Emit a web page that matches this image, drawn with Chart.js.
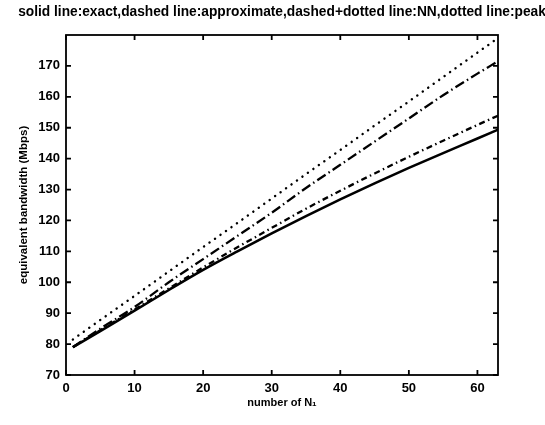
<!DOCTYPE html>
<html>
<head>
<meta charset="utf-8">
<script src="https://cdn.jsdelivr.net/npm/chart.js@4"></script>
<style>
  html, body { margin: 0; padding: 0; background: #fff; }
  #wrap { width: 545px; height: 425px; }
</style>
</head>
<body>
<div id="wrap"><canvas id="bwChart" width="545" height="425"></canvas></div>
<script>
const titleText = "solid line:exact,dashed line:approximate,dashed+dotted line:NN,dotted line:peak";

// number of N1 sources
const nValues = [1, 5, 10, 15, 20, 25, 30, 35, 40, 45, 50, 55, 60, 63];

// equivalent bandwidth (Mbps) per method
const exactBw  = [79, 84.2, 90.8, 97.5, 104, 110, 115.8, 121.4, 126.8, 132, 137, 141.8, 146.5, 149.4];
const approxBw = [79, 84.5, 91.2, 98, 104.8, 111.3, 117.6, 123.8, 129.6, 135.2, 140.6, 145.8, 150.9, 153.9];
const nnBw     = [79, 85, 92, 100, 107.5, 115, 122.5, 130.5, 138, 145.5, 153, 160.5, 167.5, 171.5];
const peakBw   = [81.5, 87.8, 95.6, 103.5, 111.4, 119.2, 127.1, 135, 142.8, 150.7, 158.5, 166.4, 174.3, 179];

const xTickValues = [0, 10, 20, 30, 40, 50, 60];
const yTickValues = [70, 80, 90, 100, 110, 120, 130, 140, 150, 160, 170];

const FONT = "'Liberation Sans', Arial, sans-serif";

function pts(ys) {
    return nValues.map((n, i) => ({ x: n, y: ys[i] }));
}

// box frame, inward ticks on all four sides, and the heading
const frameTicks = {
    id: "frameTicks",
    afterDraw(chart) {
        const { ctx, chartArea: a, scales } = chart;
        const len = 5;
        ctx.save();
        ctx.strokeStyle = "#000";
        ctx.lineWidth = 1.8;
        ctx.strokeRect(a.left, a.top, a.right - a.left, a.bottom - a.top);
        ctx.beginPath();
        xTickValues.forEach(v => {
            const px = scales.x.getPixelForValue(v);
            ctx.moveTo(px, a.bottom); ctx.lineTo(px, a.bottom - len);
            ctx.moveTo(px, a.top); ctx.lineTo(px, a.top + len);
        });
        yTickValues.forEach(v => {
            const py = scales.y.getPixelForValue(v);
            ctx.moveTo(a.left, py); ctx.lineTo(a.left + len, py);
            ctx.moveTo(a.right, py); ctx.lineTo(a.right - len, py);
        });
        ctx.stroke();

        // heading centred over the plot box, stretched to span 528px
        ctx.fillStyle = "#000";
        ctx.font = "bold 12px " + FONT;
        const w = ctx.measureText(titleText).width;
        const size = 12 * 528 / w;
        ctx.font = "bold " + size.toFixed(2) + "px " + FONT;
        ctx.textAlign = "center";
        ctx.textBaseline = "middle";
        ctx.fillText(titleText, (a.left + a.right) / 2, 12);
        ctx.restore();
    }
};

const lineBase = {
    borderColor: "#000",
    borderWidth: 2.3,
    pointRadius: 0,
    cubicInterpolationMode: "monotone"
};

new Chart(document.getElementById("bwChart"), {
    type: "line",
    data: {
        datasets: [
            { ...lineBase, label: "exact", data: pts(exactBw), borderWidth: 2.6 },
            { ...lineBase, label: "approximate", data: pts(approxBw), borderDash: [6, 3.5, 1.5, 3.5] },
            { ...lineBase, label: "NN", data: pts(nnBw), borderDash: [10, 3.5, 1.5, 3.5] },
            {
                ...lineBase,
                label: "peak",
                data: pts(peakBw),
                borderWidth: 2.4,
                borderDash: [0.1, 6.6],
                borderCapStyle: "round"
            }
        ]
    },
    options: {
        responsive: false,
        animation: false,
        layout: { padding: { left: 0, right: 47, top: 35, bottom: 0 } },
        plugins: {
            legend: { display: false },
            title: { display: false },
            tooltip: { enabled: false }
        },
        scales: {
            x: {
                type: "linear",
                min: 0,
                max: 63,
                afterBuildTicks: s => { s.ticks = xTickValues.map(v => ({ value: v })); },
                afterFit: s => { s.height = 50; },
                grid: { display: false, drawTicks: false },
                border: { display: false },
                ticks: {
                    color: "#000",
                    padding: 6,
                    maxRotation: 0,
                    font: { family: FONT, size: 13, weight: "bold" }
                },
                title: {
                    display: true,
                    text: "number of N\u2081",
                    color: "#000",
                    padding: { top: 0, bottom: 15 },
                    font: { family: FONT, size: 11, weight: "bold" }
                }
            },
            y: {
                type: "linear",
                min: 70,
                max: 180,
                afterBuildTicks: s => { s.ticks = yTickValues.map(v => ({ value: v })); },
                afterFit: s => { s.width = 66; },
                grid: { display: false, drawTicks: false },
                border: { display: false },
                ticks: {
                    color: "#000",
                    padding: 6,
                    font: { family: FONT, size: 13, weight: "bold" }
                },
                title: {
                    display: true,
                    text: "equivalent bandwidth (Mbps)",
                    color: "#000",
                    padding: { top: 17, bottom: 0 },
                    font: { family: FONT, size: 11.5, weight: "bold" }
                }
            }
        }
    },
    plugins: [frameTicks]
});
</script>
</body>
</html>
